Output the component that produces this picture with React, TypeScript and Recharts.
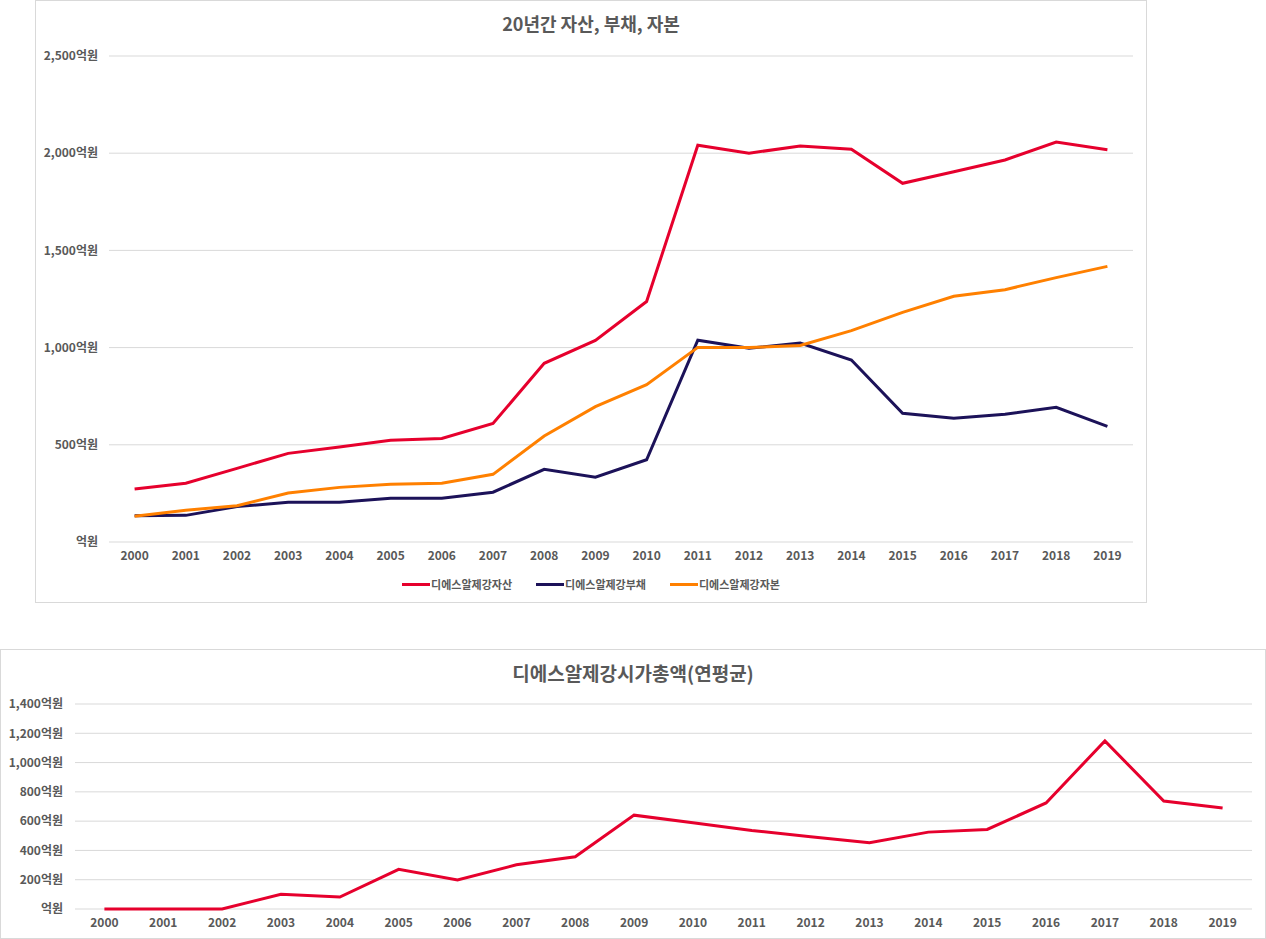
import React from 'react';
import { LineChart, Line, XAxis, YAxis, CartesianGrid } from 'recharts';

const years = ['2000', '2001', '2002', '2003', '2004', '2005', '2006', '2007', '2008', '2009',
  '2010', '2011', '2012', '2013', '2014', '2015', '2016', '2017', '2018', '2019'];

// 단위: 억원
const assets = [273, 302, 379, 456, 489, 523, 533, 610, 919, 1037, 1237, 2041, 2000, 2037, 2020, 1845, 1905, 1965, 2057, 2018];
const liabilities = [135, 137, 182, 204, 204, 225, 225, 256, 374, 333, 423, 1038, 997, 1023, 936, 662, 636, 657, 693, 595];
const equity = [132, 163, 187, 252, 281, 297, 302, 348, 545, 696, 809, 1001, 1000, 1011, 1087, 1181, 1264, 1298, 1360, 1418];
const marketCap = [0, 0, 0, 100, 82, 271, 198, 302, 357, 641, 589, 536, 493, 452, 525, 543, 724, 1148, 737, 689];

const topTicks = [0, 500, 1000, 1500, 2000, 2500];
const bottomTicks = [0, 200, 400, 600, 800, 1000, 1200, 1400];

const RED = '#e6002d';
const NAVY = '#1c1259';
const ORANGE = '#ff8000';
const GRID = '#d9d9d9';
const TEXT = '#595959';
const FONT = '"Noto Sans CJK KR", "Noto Sans", sans-serif';

const topData = years.map((year, i) => ({
  year,
  assets: assets[i],
  liabilities: liabilities[i],
  equity: equity[i],
}));

const capData = years.map((year, i) => ({ year, cap: marketCap[i] }));

const fmtWon = (v: number) =>
  v === 0 ? '억원' : `${String(v).replace(/\B(?=(\d{3})+(?!\d))/g, ',')}억원`;

const tickStyle = { fill: TEXT, fontSize: 12, fontFamily: FONT, fontWeight: 600 };

const legendItems = [
  { name: '디에스알제강자산', color: RED },
  { name: '디에스알제강부채', color: NAVY },
  { name: '디에스알제강자본', color: ORANGE },
];

const boxStyle = (left: number, top: number, width: number, height: number): React.CSSProperties => ({
  position: 'absolute',
  left,
  top,
  width,
  height,
  boxSizing: 'border-box',
  border: `1px solid ${GRID}`,
  background: '#fff',
});

const titleStyle = (top: number, size: number): React.CSSProperties => ({
  position: 'absolute',
  left: 0,
  right: 0,
  top,
  textAlign: 'center',
  fontFamily: FONT,
  fontWeight: 700,
  fontSize: size,
  color: TEXT,
  lineHeight: 1,
});

export default function App() {
  return (
    <div style={{ position: 'absolute', left: 0, top: 0, width: 1266, height: 939, background: '#fff' }}>
      {/* 20년간 자산, 부채, 자본 */}
      <div style={boxStyle(35, 0, 1112, 603)} />
      <div style={{ position: 'absolute', left: 35, top: 0, width: 1112, height: 603 }}>
        <div style={titleStyle(14, 18)}>20년간 자산, 부채, 자본</div>
        <LineChart width={1112} height={603} data={topData} margin={{ top: 56, right: 14, bottom: 31, left: 0 }}>
          <CartesianGrid vertical={false} stroke={GRID} />
          <XAxis
            dataKey="year"
            height={30}
            padding={{ left: 25.6, right: 25.6 }}
            tickLine={false}
            tickSize={0}
            tickMargin={9}
            axisLine={false}
            tick={tickStyle}
          />
          <YAxis
            width={74}
            domain={[0, 2500]}
            ticks={topTicks}
            tickFormatter={fmtWon}
            axisLine={false}
            tickLine={false}
            tickSize={0}
            tickMargin={11}
            tick={tickStyle}
          />
          <Line type="linear" dataKey="assets" name="디에스알제강자산" stroke={RED} strokeWidth={3} dot={false} isAnimationActive={false} />
          <Line type="linear" dataKey="liabilities" name="디에스알제강부채" stroke={NAVY} strokeWidth={3} dot={false} isAnimationActive={false} />
          <Line type="linear" dataKey="equity" name="디에스알제강자본" stroke={ORANGE} strokeWidth={3} dot={false} isAnimationActive={false} />
        </LineChart>
        <div
          style={{
            position: 'absolute',
            left: 0,
            width: 1112,
            top: 575,
            display: 'flex',
            justifyContent: 'center',
            gap: 24,
            fontFamily: FONT,
            fontSize: 11,
            fontWeight: 600,
            color: TEXT,
            lineHeight: '18px',
          }}
        >
          {legendItems.map((it) => (
            <div key={it.name} style={{ display: 'flex', alignItems: 'center' }}>
              <span style={{ display: 'inline-block', width: 28, height: 3, background: it.color, marginRight: 1 }} />
              <span>{it.name}</span>
            </div>
          ))}
        </div>
      </div>

      {/* 디에스알제강시가총액(연평균) */}
      <div style={boxStyle(0, 649, 1266, 290)} />
      <div style={{ position: 'absolute', left: 0, top: 649, width: 1266, height: 290 }}>
        <div style={titleStyle(14, 19)}>디에스알제강시가총액(연평균)</div>
        <LineChart width={1266} height={290} data={capData} margin={{ top: 55, right: 14, bottom: 5, left: 0 }}>
          <CartesianGrid vertical={false} stroke={GRID} />
          <XAxis
            dataKey="year"
            height={25}
            padding={{ left: 29.4, right: 29.4 }}
            tickLine={false}
            tickSize={0}
            tickMargin={9}
            axisLine={false}
            tick={tickStyle}
          />
          <YAxis
            width={75}
            domain={[0, 1400]}
            ticks={bottomTicks}
            tickFormatter={fmtWon}
            axisLine={false}
            tickLine={false}
            tickSize={0}
            tickMargin={12}
            tick={tickStyle}
          />
          <Line type="linear" dataKey="cap" name="디에스알제강시가총액" stroke={RED} strokeWidth={3} dot={false} isAnimationActive={false} />
        </LineChart>
      </div>
    </div>
  );
}
